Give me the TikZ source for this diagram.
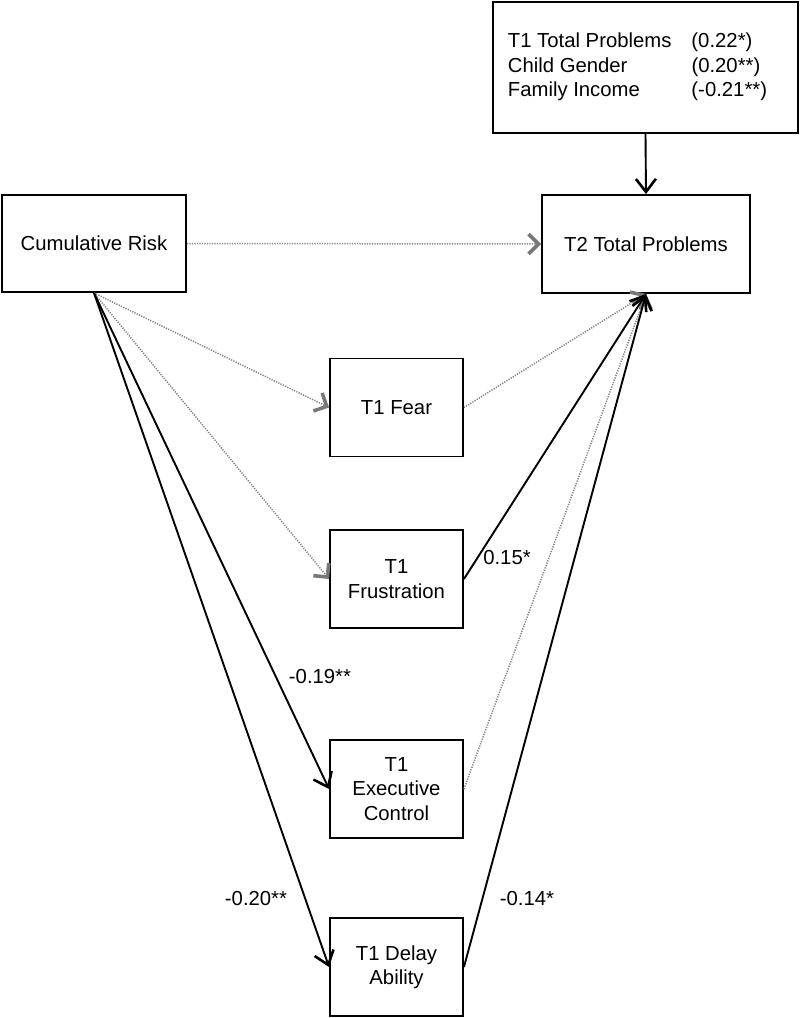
\documentclass[tikz,border=0pt]{standalone}
\usepackage{fontspec}
\setmainfont{Liberation Sans}
\usetikzlibrary{arrows.meta}
\definecolor{dotgray}{RGB}{130,130,130}
\definecolor{headgray}{RGB}{120,120,120}
\begin{document}
\begin{tikzpicture}[x=1pt,y=-1pt,
  box/.style={draw=black, line width=1.9pt, inner sep=0pt, align=center, font=\fontsize{20.3}{24.5}\selectfont},
  smallbox/.style={box, minimum width=133pt, minimum height=98pt},
  lbl/.style={font=\fontsize{20.3}{24.5}\selectfont, inner sep=0pt},
  solidarrow/.style={line width=1.9pt, -{Straight Barb[length=13pt,width=20pt,line width=2.6pt]}},
  dotarrow/.style={dotgray, line width=1.5pt, dash pattern=on 1.2pt off 1.3pt, -{Straight Barb[length=10pt,width=20pt,line width=3.6pt,color=headgray]}},
]
\useasboundingbox (0,0) rectangle (800,1018);

\node[box, minimum width=305pt, minimum height=131pt] (cov) at (645.5,67.5)
  {\begin{tabular}{@{}l@{\hspace{20pt}}l@{\hspace{16pt}}}
   T1 Total Problems & (0.22*)\\
   Child Gender & (0.20**)\\
   Family Income & (-0.21**)
   \end{tabular}};

\node[box, minimum width=184pt, minimum height=97pt] (cr) at (94,243.5) {Cumulative Risk};
\node[box, minimum width=208pt, minimum height=98pt] (t2) at (646,244) {T2 Total Problems};

\node[smallbox] (fear) at (396.5,407.5) {T1 Fear};
\node[smallbox] (frus) at (396.5,579) {T1\\Frustration};
\node[smallbox] (exec) at (396.5,789) {T1\\Executive\\Control};
\node[smallbox] (delay) at (396.5,967) {T1 Delay\\Ability};

\draw[solidarrow] (cov.south) -- (t2.north);
\draw[dotarrow] (cr.east) -- (t2.west);
\draw[dotarrow] (cr.south) -- (fear.west);
\draw[dotarrow] (cr.south) -- (frus.west);
\draw[solidarrow] (cr.south) -- (exec.west);
\draw[solidarrow] (cr.south) -- (delay.west);

\draw[dotarrow] (fear.east) -- (t2.south);
\draw[dotarrow] (exec.east) -- (t2.south);
\draw[solidarrow] (frus.east) -- (t2.south);
\draw[solidarrow] (delay.east) -- (t2.south);

\node[lbl] (l1) at (507,558) {0.15*};
\node[lbl] (l2) at (320,677) {-0.19**};
\node[lbl] (l3) at (256,898) {-0.20**};
\node[lbl] (l4) at (527,898) {-0.14*};
\end{tikzpicture}
\end{document}
